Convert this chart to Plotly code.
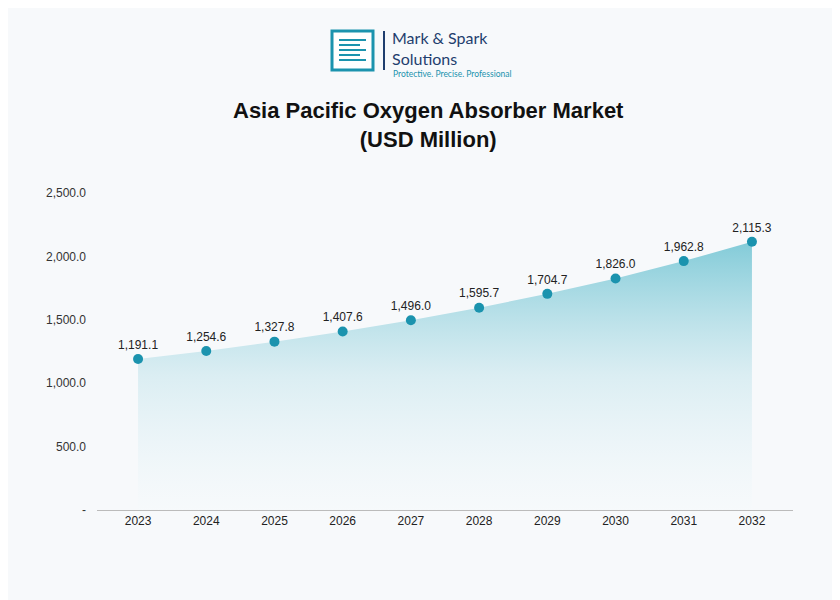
import plotly.graph_objects as go

years = ["2023", "2024", "2025", "2026", "2027", "2028", "2029", "2030", "2031", "2032"]
values = [1191.1, 1254.6, 1327.8, 1407.6, 1496.0, 1595.7, 1704.7, 1826.0, 1962.8, 2115.3]
tick_vals = [0, 500, 1000, 1500, 2000, 2500]
tick_text = ["-", "500.0", "1,000.0", "1,500.0", "2,000.0", "2,500.0"]

OFF = 8
L, R, T, B = 89, 47, 185, 90

fig = go.Figure()
fig.add_trace(go.Scatter(
    x=years, y=values, mode="lines", fill="tozeroy",
    line=dict(color="rgba(0,0,0,0)", width=0),
    fillgradient=dict(type="vertical", colorscale=[
        [0, "rgba(245,250,252,0.3)"], [0.5, "rgba(200,230,237,0.6)"], [1, "rgba(110,195,210,0.85)"]]),
    hoverinfo="skip", showlegend=False))
fig.add_trace(go.Scatter(
    x=years, y=values, mode="markers+text",
    marker=dict(size=10, color="#1b93ae"),
    text=[f"{v:,.1f}" for v in values], textposition="top center",
    textfont=dict(family="Arial", size=12, color="#222"),
    showlegend=False))

fig.update_layout(
    width=840 - OFF, height=600 - OFF, paper_bgcolor="#f7f9fb", plot_bgcolor="rgba(0,0,0,0)",
    margin=dict(l=L, r=R, t=T, b=B),
    font=dict(family="Arial", size=12, color="#333"),
    xaxis=dict(showgrid=False, showline=True, linecolor="#bbb", ticks="",
               tickfont=dict(size=12, color="#222")),
    yaxis=dict(range=[0, 2500], tickvals=tick_vals, ticktext=tick_text, showgrid=False,
               zeroline=False, ticks="", ticklabelstandoff=10, tickfont=dict(size=12, color="#333")),
)

H = 600 - OFF - T - B
W = 840 - OFF - L - R
def py(p):
    return 1 + (T + OFF - p) / H
def px(p):
    return (p - L - OFF) / W

fig.add_annotation(text="<b>Asia Pacific Oxygen Absorber Market<br>(USD Million)</b>", x=px(428), y=py(125),
                   xref="paper", yref="paper", yanchor="middle", showarrow=False,
                   font=dict(size=22, color="#111"))

# logo
fig.add_shape(type="rect", xref="paper", yref="paper", x0=px(332), x1=px(373), y0=py(31), y1=py(70),
              line=dict(color="#1b93ae", width=3), fillcolor="white")
for i, yy in enumerate([40, 45, 50, 55, 60]):
    fig.add_shape(type="line", xref="paper", yref="paper", x0=px(339), x1=px(366 if i % 2 == 0 else 360),
                  y0=py(yy), y1=py(yy), line=dict(color="#1b93ae", width=2))
fig.add_shape(type="line", xref="paper", yref="paper", x0=px(384), x1=px(384), y0=py(31), y1=py(70),
              line=dict(color="#1f3e6e", width=2))
fig.add_annotation(text="Mark & Spark<br>Solutions", xref="paper", yref="paper", x=px(391), y=py(48),
                   xanchor="left", yanchor="middle", showarrow=False, borderpad=0, align="left",
                   font=dict(size=16, color="#1f3e6e", family="Lato"))
fig.add_annotation(text="Protective. Precise. Professional", xref="paper", yref="paper", x=px(392), y=py(74),
                   xanchor="left", yanchor="middle", showarrow=False, borderpad=0,
                   font=dict(size=8.5, color="#1b93ae", family="Lato"))

fig.write_html("out.html")
